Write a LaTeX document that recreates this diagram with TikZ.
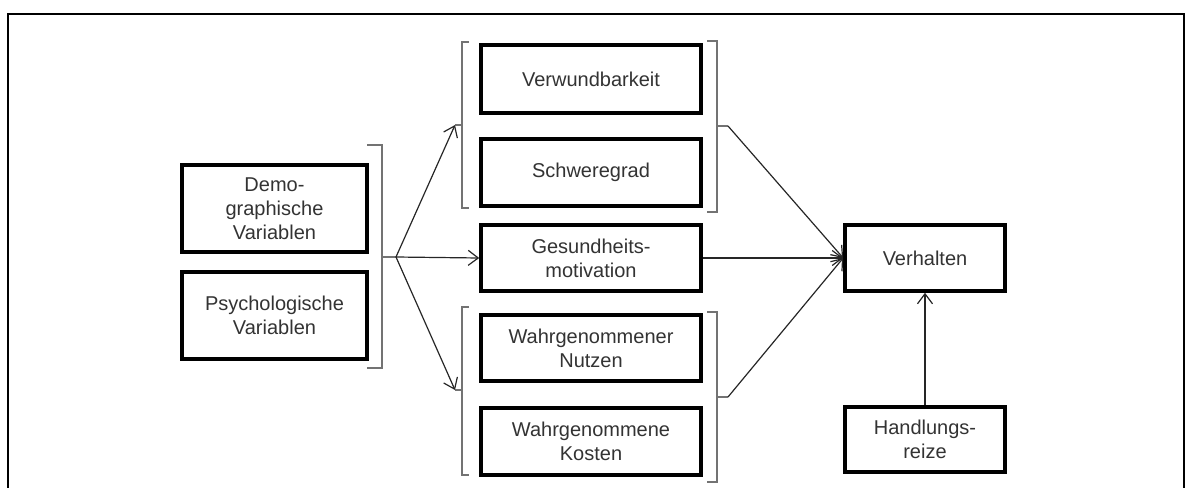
\documentclass[tikz,border=0pt]{standalone}
\usepackage{fontspec}
\setmainfont{Liberation Sans}
\usetikzlibrary{arrows.meta}
\begin{document}
\begin{tikzpicture}[x=1pt,y=-1pt,
  box/.style={draw=black, line width=3.6pt, fill=white, inner sep=0pt, align=center,
    text=black!80, font=\fontsize{20}{24}\selectfont},
  conn/.style={draw=black!85, line width=1.2pt, -{Straight Barb[length=10pt,width=15pt,line width=1.2pt]}},
  brk/.style={draw=black!55, line width=1.1pt},
  frame/.style={draw=black, line width=2.2pt}]
\useasboundingbox (0,0) rectangle (1193,487);
\draw[frame] (8,495) -- (8,14) -- (1184,14) -- (1184,495);

\node[box, minimum width=185pt, minimum height=87pt] (demo) at (274.5,208.5) {Demo-\\graphische\\Variablen};
\node[box, minimum width=185pt, minimum height=87pt] (psych) at (274.5,315.5) {Psychologische\\Variablen};

\node[box, minimum width=220pt, minimum height=68pt] (verw) at (591,79) {Verwundbarkeit};
\node[box, minimum width=220pt, minimum height=67pt] (schw) at (591,172.5) {Schweregrad};
\node[box, minimum width=220pt, minimum height=66pt] (ges) at (591,258) {Gesundheits-\\motivation};
\node[box, minimum width=220pt, minimum height=66pt] (nutz) at (591,348) {Wahrgenommener\\Nutzen};
\node[box, minimum width=220pt, minimum height=67pt] (kost) at (591,441.5) {Wahrgenommene\\Kosten};

\node[box, minimum width=160pt, minimum height=66pt] (verh) at (925,258) {Verhalten};
\node[box, minimum width=160pt, minimum height=65pt] (hand) at (925,439.5) {Handlungs-\\reize};

% brackets
\draw[brk] (367,145) -- (382,145) -- (382,368) -- (367,368);
\draw[brk] (469,42) -- (462,42) -- (462,208) -- (469,208);
\draw[brk] (469,307) -- (462,307) -- (462,475) -- (469,475);
\draw[brk] (707,41) -- (717,41) -- (717,212) -- (707,212);
\draw[brk] (707,312) -- (717,312) -- (717,482) -- (707,482);

\coordinate (lbm) at (382,257);
\coordinate (lb) at (396,257);
\coordinate (ulm) at (462,125);
\coordinate (ul) at (455,125);
\coordinate (llm) at (462,390);
\coordinate (ll) at (455,390);
\coordinate (urm) at (717,126);
\coordinate (ur) at (728,126);
\coordinate (lrm) at (717,397);
\coordinate (lr) at (728,397);

\draw[brk] (lbm) -- (lb);
\draw[brk] (ulm) -- (ul);
\draw[brk] (llm) -- (ll);
\draw[brk] (urm) -- (ur);
\draw[brk] (lrm) -- (lr);

\draw[conn] (lb) -- (ul);
\draw[conn] (lb) -- (ll);
\draw[conn] (lb) -- (ges.west);
\draw[conn] (ur) -- (verh.west);
\draw[conn] (lr) -- (verh.west);
\draw[conn] (ges.east) -- (verh.west);
\draw[conn] (hand.north) -- (verh.south);
\end{tikzpicture}
\end{document}
